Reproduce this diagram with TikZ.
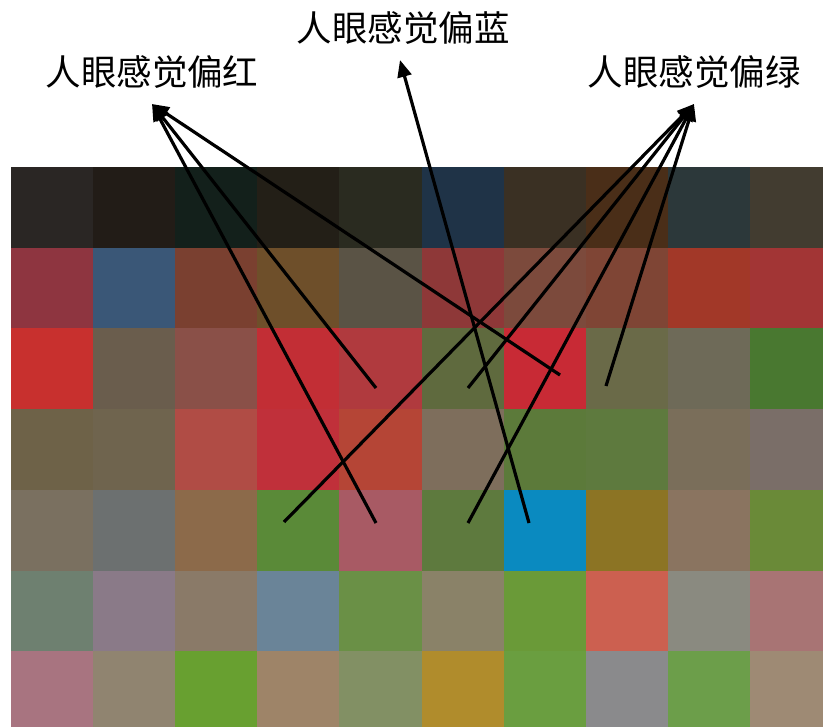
\documentclass[tikz,border=0pt]{standalone}
\usepackage{fontspec}
\newfontfamily\cjk{Noto Sans CJK SC}[FakeBold=0]
\usetikzlibrary{arrows.meta}
\tikzset{
  lbl/.style={font=\cjk\fontsize{35.5}{40}\selectfont, text=black, inner sep=0pt},
  arr/.style={line width=3.2pt, -{Triangle[length=17pt,width=14pt]}, black},
}
\newcommand{\cellrow}[2]{%
  \foreach \c [count=\i from 0] in {#2}{%
    \edef\tmpdef{\noexpand\definecolor{cellc}{HTML}{\c}}\tmpdef
    \fill[cellc] (10.5+82.2*\i, 167+80.7*#1) rectangle ++(82.6, 81.1);
  }%
}
\begin{document}
\begin{tikzpicture}[x=1pt,y=-1pt]
\useasboundingbox (0,0) rectangle (823,727);
\fill[white] (0,0) rectangle (823,727);
\begin{scope}
\clip (10.5,167) rectangle (823,727);
\cellrow{0}{2A2624,221C17,13201B,231F17,2A2B20,1F3347,3A3023,4A2E18,2C383A,423C30}
\cellrow{1}{8E3540,3A5777,7A4030,6E4F2A,5A5345,8E3838,7C4A3C,7F4535,A23828,A23535}
\cellrow{2}{C8302E,6A5D4D,8A5048,C22E35,B03A3E,5F6A3E,C82A35,6A6A48,6E6A58,497830}
\cellrow{3}{6E6248,6F644E,B04C45,C0303A,B54536,7E6E5C,5C7A3A,5E7A3E,7A6E5A,7A6E68}
\cellrow{4}{7A7060,6C7070,8C6A4A,5A8A38,A85A64,5E7A3E,0A8AC0,8C7424,8A7460,6A8A38}
\cellrow{5}{6E8070,8A7A88,8A7A68,6A8498,6A9046,8A8268,6A9A38,CC6050,8A8A80,A87474}
\cellrow{6}{A87480,908470,68A030,9E8468,829064,B08C2C,6A9E40,8A8A8C,6C9E4A,9E8A74}
\end{scope}

\node[lbl] (red) at (152,72) {人眼感觉偏红};
\node[lbl] (blue) at (403,28) {人眼感觉偏蓝};
\node[lbl] (green) at (694,72) {人眼感觉偏绿};

\coordinate (rt) at (152,104);
\coordinate (bt) at (400,60);
\coordinate (gt) at (694,104);

\coordinate (r1) at (376,388);
\coordinate (r2) at (376,523);
\coordinate (r3) at (560,375);
\coordinate (b1) at (529,523);
\coordinate (g1) at (284,522);
\coordinate (g2) at (468,388);
\coordinate (g3) at (468,523);
\coordinate (g4) at (606,386);

\draw[arr] (r1) -- (rt);
\draw[arr] (r2) -- (rt);
\draw[arr] (r3) -- (rt);
\draw[arr] (b1) -- (bt);
\draw[arr] (g1) -- (gt);
\draw[arr] (g2) -- (gt);
\draw[arr] (g3) -- (gt);
\draw[arr] (g4) -- (gt);
\end{tikzpicture}
\end{document}
